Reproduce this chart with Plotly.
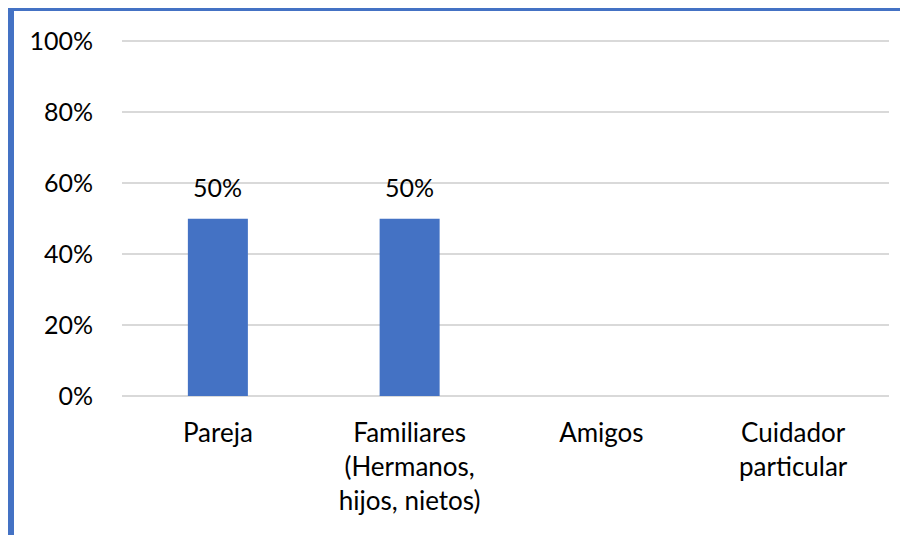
"""Bar chart: share of responses by type of companion."""

import plotly.graph_objects as go

categories = [
    "Pareja",
    "Familiares<br>(Hermanos,<br>hijos, nietos)",
    "Amigos",
    "Cuidador<br>particular",
]
shares = [0.50, 0.50, 0.0, 0.0]
y_ticks = [0, 0.2, 0.4, 0.6, 0.8, 1.0]

BLUE = "#4472C4"
GRID = "#D9D9D9"
FONT = "Lato"

# the page body adds an 8px margin, so the figure is 8px smaller than the window
W, H = 900, 527
L, R, T, B = 114, 19, 32, 139


def px_x(px):
    return (px - L) / (W - L - R)


def px_y(py):
    return (H - B - py) / (H - T - B)


fig = go.Figure()

fig.add_trace(
    go.Bar(
        x=categories,
        y=shares,
        width=0.313,
        marker=dict(color=BLUE, line=dict(width=0)),
        hoverinfo="skip",
    )
)

# data labels only for non-zero bars
for cat, val in zip(categories, shares):
    if val > 0:
        fig.add_annotation(
            x=cat,
            y=val,
            text=f"{val:.0%}",
            showarrow=False,
            yanchor="bottom",
            yshift=15,
            font=dict(family=FONT, size=25, color="black"),
        )

# chart-area border (top + left edge visible in the crop)
fig.add_shape(
    type="rect", xref="paper", yref="paper",
    x0=px_x(0), x1=px_x(6), y0=px_y(H + 5), y1=px_y(-2),
    fillcolor=BLUE, line=dict(width=0), layer="above",
)
fig.add_shape(
    type="rect", xref="paper", yref="paper",
    x0=px_x(0), x1=px_x(W + 5), y0=px_y(3), y1=px_y(-2),
    fillcolor=BLUE, line=dict(width=0), layer="above",
)

fig.update_layout(
    width=W,
    height=H,
    margin=dict(l=L, r=R, t=T, b=B),
    paper_bgcolor="white",
    plot_bgcolor="white",
    showlegend=False,
    font=dict(family=FONT, size=25, color="black"),
    bargap=0.687,
    xaxis=dict(
        showgrid=False,
        showline=False,
        ticks="",
        tickangle=0,
        ticklabelstandoff=19,
        tickfont=dict(family=FONT, size=26, color="black"),
    ),
    yaxis=dict(
        range=[0, 1.004],
        tickvals=y_ticks,
        tickformat=".0%",
        showgrid=True,
        gridcolor=GRID,
        gridwidth=2,
        zeroline=True,
        zerolinecolor=GRID,
        zerolinewidth=2,
        showline=False,
        ticks="",
        ticklabelstandoff=28,
        tickfont=dict(family=FONT, size=25, color="black"),
    ),
)

fig.write_html("out.html")
